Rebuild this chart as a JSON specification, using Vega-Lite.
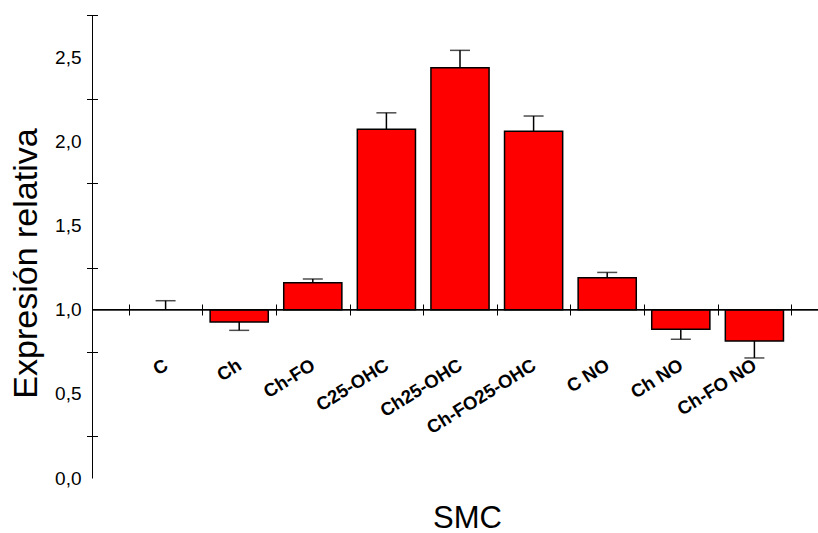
{
  "$schema": "https://vega.github.io/schema/vega-lite/v6.json",
  "width": 726,
  "height": 463,
  "autosize": {"type": "none"},
  "padding": {"left": 92, "top": 15, "right": 0, "bottom": 55},
  "background": "white",
  "config": {
    "view": {"stroke": null},
    "font": "Liberation Sans",
    "axis": {
      "grid": false,
      "domainColor": "black",
      "tickColor": "black",
      "labelColor": "black",
      "titleColor": "black",
      "titleFontWeight": "normal",
      "labelFont": "Liberation Sans",
      "titleFont": "Liberation Sans"
    }
  },
  "data": {
    "values": [
      {"cat": "C", "value": 1.0, "err": 1.053},
      {"cat": "Ch", "value": 0.926, "err": 0.877},
      {"cat": "Ch-FO", "value": 1.16, "err": 1.182},
      {"cat": "C25-OHC", "value": 2.071, "err": 2.169},
      {"cat": "Ch25-OHC", "value": 2.436, "err": 2.54},
      {"cat": "Ch-FO25-OHC", "value": 2.059, "err": 2.15},
      {"cat": "C NO", "value": 1.189, "err": 1.221},
      {"cat": "Ch NO", "value": 0.883, "err": 0.824},
      {"cat": "Ch-FO NO", "value": 0.814, "err": 0.713}
    ]
  },
  "resolve": {"axis": {"y": "independent"}},
  "layer": [
    {
      "transform": [{"filter": "datum.value != 1"}],
      "mark": {"type": "bar", "fill": "#ff0000", "stroke": "black", "strokeWidth": 1.5, "width": {"band": 0.79}},
      "encoding": {
        "x": {
          "field": "cat",
          "type": "nominal",
          "sort": null,
          "scale": {
            "domain": ["C", "Ch", "Ch-FO", "C25-OHC", "Ch25-OHC", "Ch-FO25-OHC", "C NO", "Ch NO", "Ch-FO NO"],
            "range": [0, 736],
            "paddingInner": 0,
            "paddingOuter": 0.5
          },
          "axis": {
            "orient": "bottom",
            "offset": -174,
            "domain": false,
            "tickBand": "extent",
            "tickSize": 11,
            "tickWidth": 1,
            "labelAngle": -32,
            "labelAlign": "right",
            "labelBaseline": "middle",
            "labelPadding": 48,
            "labelFontWeight": "bold",
            "labelFontSize": 18.5,
            "labelOverlap": false,
            "labelFlush": false,
            "title": "SMC",
            "titleFontSize": 31,
            "titleX": 375,
            "titleY": 223,
            "titleAlign": "center",
            "titleBaseline": "alphabetic"
          }
        },
        "y": {
          "field": "value",
          "type": "quantitative",
          "scale": {"domain": [0, 2.75], "nice": false, "zero": false},
          "axis": {
            "orient": "left",
            "values": [0, 0.5, 1, 1.5, 2, 2.5],
            "labelExpr": "replace(format(datum.value, '.1f'), '.', ',')",
            "ticks": false,
            "labelPadding": 11,
            "labelFontSize": 19,
            "labelBaseline": "middle",
            "domainWidth": 1,
            "title": "Expresión relativa",
            "titleFontSize": 34,
            "titleAngle": -90,
            "titleX": -56,
            "titleY": 248,
            "titleAlign": "center",
            "titleBaseline": "alphabetic"
          }
        },
        "y2": {"datum": 1}
      }
    },
    {
      "mark": {"type": "rule", "color": "black", "strokeWidth": 1.5},
      "encoding": {
        "x": {"field": "cat", "type": "nominal", "sort": null},
        "y": {"field": "value", "type": "quantitative", "axis": null},
        "y2": {"field": "err"}
      }
    },
    {
      "mark": {"type": "tick", "orient": "horizontal", "size": 20, "thickness": 1.5, "color": "black"},
      "encoding": {
        "x": {"field": "cat", "type": "nominal", "sort": null},
        "y": {
          "field": "err",
          "type": "quantitative",
          "axis": {
            "orient": "left",
            "values": [0.25, 0.75, 1.25, 1.75, 2.25, 2.75],
            "labels": false,
            "domain": false,
            "tickSize": 11,
            "tickWidth": 1,
            "offset": -5.5,
            "title": null
          }
        }
      }
    },
    {
      "mark": {"type": "rule", "color": "black", "strokeWidth": 1},
      "encoding": {"y": {"datum": 1}}
    }
  ]
}
